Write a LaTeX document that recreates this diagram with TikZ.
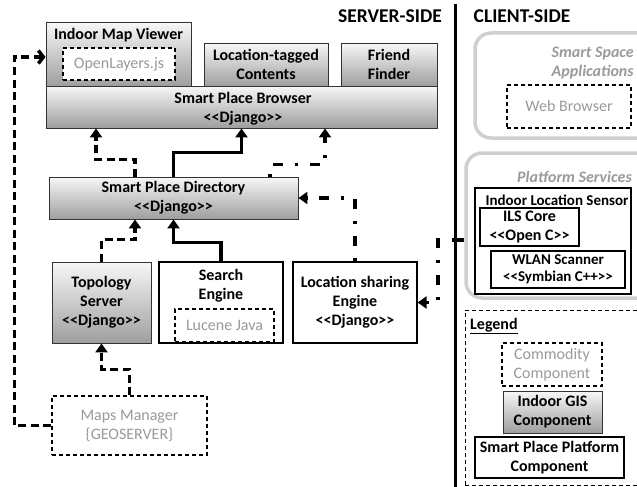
\documentclass[tikz,border=0pt]{standalone}
\usepackage{fontspec}
\setmainfont{Carlito}
\usetikzlibrary{arrows.meta,calc}
\newcommand\boxfont{\fontsize{16}{19}\selectfont}
\newcommand\smallboxfont{\fontsize{15}{17.5}\selectfont}
\newcommand\headfont{\fontsize{19.5}{22}\selectfont}
\newcommand\stereo[1]{<\kern0pt<#1>\kern0pt>}
\definecolor{dimtext}{HTML}{9A9A9A}
\definecolor{roundedge}{HTML}{CFCFCF}
\begin{document}
\begin{tikzpicture}[x=1pt,y=-1pt,
  every node/.style={inner sep=0pt, align=center, font=\boxfont},
  gis/.style={draw=black!80, line width=0.9pt, top color=black!3, bottom color=black!38, font=\boxfont\bfseries},
  plat/.style={draw=black, line width=1.2pt, fill=white, font=\boxfont\bfseries},
  comm/.style={draw=black, line width=1.2pt, dash pattern=on 4pt off 3pt, fill=white, text=dimtext, font=\boxfont},
  title/.style={font=\boxfont\bfseries},
  roundbox/.style={draw=roundedge, line width=3.5pt, rounded corners=16pt, fill=white},
  italichead/.style={font=\boxfont\bfseries\itshape, text=dimtext},
  link/.style={line width=3.5pt, -{Triangle[length=9pt,width=12pt]}},
  dashlink/.style={link, dash pattern=on 8pt off 4.5pt},
  dotlink/.style={link, dash pattern=on 3pt off 12pt on 10pt off 12pt},
]
\useasboundingbox (0,0) rectangle (637,487);
\clip (0,0) rectangle (637,487);

% ---------- headings and the server/client divider ----------
\node[font=\headfont\bfseries] (serverhead) at (390,16) {SERVER-SIDE};
\node[font=\headfont\bfseries] (clienthead) at (522,16) {CLIENT-SIDE};
\coordinate (divtop) at (455,4);
\coordinate (divbot) at (455,487);
\draw[line width=3pt] (divtop) -- (divbot);

% ---------- server side: browser layer ----------
\node[gis, minimum width=145pt, minimum height=64pt] (viewer) at (118.5,54) {};
\node[title] (viewertitle) at (118.5,35) {Indoor Map Viewer};
\node[comm, minimum width=112pt, minimum height=32pt] (openlayers) at (119,64) {OpenLayers.js};
\node[gis, minimum width=124pt, minimum height=43pt] (tagged) at (266,64.5) {Location-tagged\\Contents};
\node[gis, minimum width=96pt, minimum height=43pt] (friend) at (389,64.5) {Friend\\Finder};
\node[gis, minimum width=391pt, minimum height=42pt] (browser) at (241.5,107) {};
\node[title] (browsertext) at (243,109) {Smart Place Browser\\\stereo{Django}};

% ---------- server side: directory and engines ----------
\node[gis, minimum width=249pt, minimum height=42pt] (directory) at (173.5,198) {Smart Place Directory\\\stereo{Django}};
\node[gis, minimum width=99pt, minimum height=81pt] (topology) at (101.5,302.5) {Topology\\Server\\\stereo{Django}};
\node[plat, minimum width=124pt, minimum height=81pt] (search) at (221,302.5) {};
\node[title] (searchtitle) at (221,286) {Search\\Engine};
\node[comm, minimum width=99pt, minimum height=33pt] (lucene) at (224.5,325.5) {Lucene Java};
\node[plat, minimum width=124pt, minimum height=81pt] (locshare) at (355,302.5) {Location sharing\\Engine\\\stereo{Django}};
\node[comm, minimum width=155pt, minimum height=59pt] (maps) at (129.5,425.5) {Maps Manager\\\{GEOSERVER\}};

% ---------- client side (right edges run past the page) ----------
\node[roundbox, minimum width=200pt, minimum height=105pt] (apps) at (575,85.5) {};
\node[italichead, anchor=east] (appstitle) at (634,63) {Smart Space\\Applications};
\node[comm, minimum width=124pt, minimum height=43pt] (webbrowser) at (569,106.5) {Web Browser};

\node[roundbox, minimum width=204pt, minimum height=145pt] (platform) at (568,225.5) {};
\node[italichead, anchor=east] (platformtitle) at (632,177) {Platform Services};
\node[plat, minimum width=156pt, minimum height=106pt] (sensor) at (553,241) {};
\node[title, font=\smallboxfont\bfseries] (sensortitle) at (557,200) {Indoor Location Sensor};
\node[plat, minimum width=99pt, minimum height=38pt] (ilscore) at (529.5,227) {ILS Core\\\stereo{Open C}};
\node[plat, minimum width=134pt, minimum height=37pt, font=\smallboxfont\bfseries] (wlan) at (558,269.5) {WLAN Scanner\\\stereo{Symbian C++}};

% ---------- legend ----------
\node[draw=black, line width=1pt, dash pattern=on 4pt off 3pt, minimum width=205pt, minimum height=175pt] (legend) at (567.5,397.5) {};
\node[title, anchor=west] (legendtitle) at (470,326) {\underline{Legend}};
\node[comm, minimum width=100pt, minimum height=43pt] (lcomm) at (552,364.5) {Commodity\\Component};
\node[gis, minimum width=99pt, minimum height=42pt] (lgis) at (552.5,412) {Indoor GIS\\Component};
\node[plat, minimum width=149pt, minimum height=41pt] (lplat) at (549.5,457.5) {Smart Place Platform\\Component};

% ---------- connectors ----------
\draw[dashlink, -{Straight Barb[length=5pt,width=13pt]}] (maps.west) -- ++(-37,0) |- ([yshift=-3pt]viewer.west);
\draw[dashlink] (maps.north) -- ++(0,-26) -| (topology.south);
\draw[dashlink] (topology.north) -- ++(0,-22) -| ([xshift=-38.5pt]directory.south);
\draw[link] (search.north) -- ++(0,-19) -| (directory.south);
\draw[dashlink] ([xshift=-38.5pt]directory.north) -- ++(0,-17) -| ([xshift=-145.5pt]browser.south);
\draw[link] (directory.north) -- ++(0,-24) -| (browser.south);
\draw[dotlink] ([xshift=96.5pt]directory.north) -- ++(0,-12) -| ([xshift=83.5pt]browser.south);
\draw[dotlink] (locshare.north) |- (directory.east);
\coordinate (tap) at (divtop |- 0,240);
\draw[line width=3.5pt] (tap) -- (tap -| platform.west);
\draw[dotlink] (tap) -- ++(-17,0) |- (locshare.east);
\end{tikzpicture}
\end{document}
